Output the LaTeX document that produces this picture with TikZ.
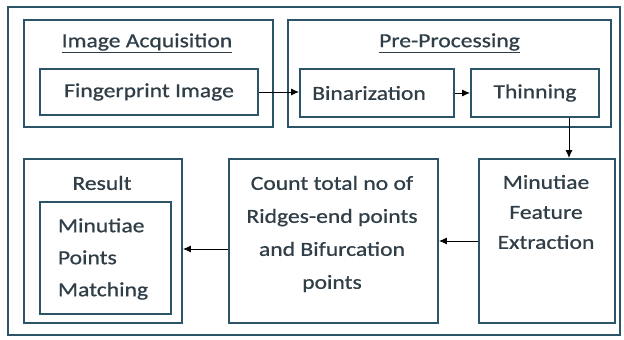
\documentclass[tikz,border=0pt]{standalone}
\usepackage{fontspec}
\setmainfont{Carlito}[FakeStretch=1.18,FakeBold=0.8]
\usetikzlibrary{arrows.meta,calc}
\definecolor{edge}{RGB}{44,84,104}
\definecolor{ink}{RGB}{48,62,72}
\begin{document}
\begin{tikzpicture}[x=1pt,y=-1pt,
  box/.style={draw=edge,line width=1.9pt,rectangle,inner sep=0pt},
  lbl/.style={text=ink,font=\fontsize{20}{31}\selectfont,inner sep=0pt,align=center},
  arr/.style={-{Latex[length=8pt,width=7pt]},line width=1pt,black}]
\useasboundingbox (0,0) rectangle (624,340);
\node[box,minimum width=612pt,minimum height=328pt] (outer) at (314,171) {};
% top row
\node[box,minimum width=249pt,minimum height=107pt] (acq) at (148.5,73.5) {};
\node[lbl] (acqt) at (147,43) {\underline{Image Acquisition}};
\node[box,minimum width=218pt,minimum height=46pt] (fp) at (149,92) {};
\node[lbl] (fpt) at (fp) {Fingerprint Image};
\node[box,minimum width=323pt,minimum height=107pt] (pre) at (449.5,73.5) {};
\node[lbl] (pret) at (449.5,43) {\underline{Pre-Processing}};
\node[box,minimum width=154pt,minimum height=48pt] (bin) at (377,93) {};
\node[lbl] (bint) at (369,93) {Binarization};
\node[box,minimum width=128pt,minimum height=48pt] (thin) at (535,93) {};
\node[lbl] (thint) at (535,93) {Thinning};
% bottom row
\node[box,minimum width=158pt,minimum height=164pt] (res) at (103,241) {};
\node[lbl] (rest) at (102,183) {Result};
\node[box,minimum width=131pt,minimum height=112pt] (match) at (105.5,258) {};
\node[lbl,align=left,font=\fontsize{20}{32}\selectfont] (matcht) at (103,259) {Minutiae\\Points\\Matching};
\node[box,minimum width=209pt,minimum height=164pt] (count) at (333.5,241) {};
\node[lbl,font=\fontsize{20}{33}\selectfont] (countt) at (332,234) {Count total no of\\Ridges-end points\\and Bifurcation\\points};
\node[box,minimum width=136pt,minimum height=164pt] (mfe) at (547,241) {};
\node[lbl,font=\fontsize{20}{30}\selectfont] (mfet) at (546,212) {Minutiae\\Feature\\Extraction};
% connectors
\coordinate (t1) at ([xshift=34pt]thin.south);
\coordinate (c1) at ([yshift=-8pt]count.west);
\draw[arr] (fp.east) -- (fp.east -| bin.west);
\draw[arr] (bin.east) -- (thin.west);
\draw[arr] (t1) -- (t1 |- mfe.north);
\draw[arr] (mfe.west) -- (count.east);
\draw[arr] (c1) -- (c1 -| res.east);
\end{tikzpicture}
\end{document}
